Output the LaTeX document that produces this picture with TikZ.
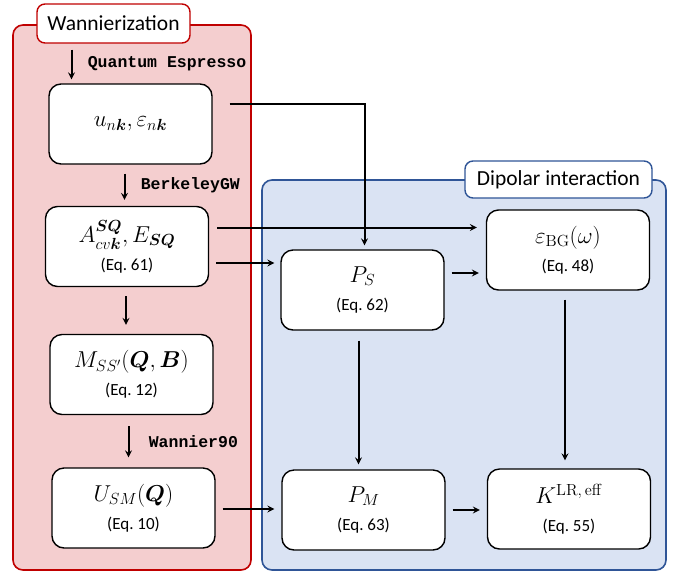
\RequirePackage{fix-cm}
\documentclass[tikz,border=0pt]{standalone}
\usepackage{amsmath,bm}
\usepackage[no-math]{fontspec}
\setmainfont{Carlito}
\setmonofont{Liberation Mono}
\usetikzlibrary{arrows,positioning,calc}
\definecolor{wancolor}{RGB}{192,0,0}
\definecolor{wanfill}{RGB}{244,206,207}
\definecolor{dipcolor}{RGB}{47,85,151}
\definecolor{dipfill}{RGB}{218,227,243}
\newcommand{\eqtag}[1]{{\fontsize{17}{20}\selectfont (Eq.~#1)}}

\begin{document}
\begin{tikzpicture}[
    x=1pt, y=-1pt,
    framebox/.style={
        rectangle, rounded corners=10pt, line width=1.6pt
    },
    stepbox/.style={
        rectangle, draw, fill=white, rounded corners=12pt,
        line width=1.4pt,
        minimum width=163pt, minimum height=80pt,
        align=center, font=\fontsize{23}{28}\selectfont
    },
    tabbox/.style={
        rectangle, draw, fill=white, rounded corners=8pt,
        line width=1.4pt, font=\fontsize{21.5}{25}\selectfont
    },
    codelabel/.style={right, font=\ttfamily\bfseries\fontsize{16.5}{20}\selectfont},
    arrow/.style={->, >=stealth, line width=2pt}
]
\useasboundingbox (0,0) rectangle (682,574);

% Frames
\node[framebox, draw=wancolor, fill=wanfill, minimum width=238pt, minimum height=545pt] (wanframe) at (132,297.5) {};
\node[framebox, draw=dipcolor, fill=dipfill, minimum width=404pt, minimum height=390pt] (dipframe) at (464,375) {};
\node[tabbox, draw=wancolor, minimum width=153pt, minimum height=39pt] (wan) at (113.5,23.5) {Wannierization};
\node[tabbox, draw=dipcolor, minimum width=187pt, minimum height=37pt] (dip) at (558.5,179.5) {Dipolar interaction};

% Wannierization steps
\node[stepbox] (unk) at (130.5,124) {$u_{n\bm{k}}, \varepsilon_{n\bm{k}}$};
\node[stepbox] (A) at (127,246.5) {$A^{\bm{SQ}}_{cv\bm{k}}, E_{\bm{SQ}}$\\ \eqtag{61}};
\node[stepbox] (M) at (131.5,374.5) {$M_{SS'}(\bm{Q},\bm{B})$\\ \eqtag{12}};
\node[stepbox] (U) at (133.5,508) {$U_{SM}(\bm{Q})$\\ \eqtag{10}};

% Dipolar interaction steps
\node[stepbox] (PS) at (362.5,290) {$P_S$\\ \eqtag{62}};
\node[stepbox] (eps) at (568,250) {$\varepsilon_{\mathrm{BG}}(\omega)$\\ \eqtag{48}};
\node[stepbox] (PM) at (363.5,510) {$P_M$\\ \eqtag{63}};
\node[stepbox] (K) at (569,509) {$K^{\mathrm{LR,\,eff}}$\\ \eqtag{55}};

% Arrows - Wannierization
\draw[arrow, shorten <=6pt, shorten >=4pt] ([xshift=-42]wan.south) -- ([xshift=-42]wan.south |- unk.north)
    node[codelabel, midway, xshift=12pt] {Quantum Espresso};
\draw[arrow, shorten <=9pt, shorten >=6pt] ([xshift=-6]unk.south) -- ([xshift=-6]unk.south |- A.north)
    node[codelabel, midway, xshift=12pt] {BerkeleyGW};
\draw[arrow, shorten <=9pt, shorten >=9pt] ([xshift=-1]A.south) -- ([xshift=-1]A.south |- M.north);
\draw[arrow, shorten <=11pt, shorten >=10pt] ([xshift=-3]M.south) -- ([xshift=-3]M.south |- U.north)
    node[codelabel, midway, xshift=16pt] {Wannier90};

% Arrows - to dipolar interaction
\draw[arrow, shorten >=4pt] ([shift={(17,-20)}]unk.east) -| ([xshift=2]PS.north);
\draw[arrow, shorten >=9pt] ([shift={(8,-19)}]A.east) coordinate (a1) -- (a1 -| eps.west);
\draw[arrow, shorten >=6pt] ([shift={(7,16.5)}]A.east) coordinate (a2) -- (a2 -| PS.west);
\draw[arrow, shorten >=7pt] ([shift={(7,1)}]U.east) coordinate (a3) -- (a3 -| PM.west);

% Arrows - dipolar interaction
\draw[arrow, shorten >=7pt] ([shift={(7,-17)}]PS.east) coordinate (a4) -- (a4 -| eps.west);
\draw[arrow, shorten <=10pt, shorten >=5pt] ([xshift=-4]PS.south) -- ([xshift=-4]PS.south |- PM.north);
\draw[arrow, shorten <=9pt, shorten >=8pt] ([xshift=-3]eps.south) -- ([xshift=-3]eps.south |- K.north);
\draw[arrow, shorten <=7pt, shorten >=7pt] (PM.east) -- (PM.east -| K.west);

\end{tikzpicture}
\end{document}
